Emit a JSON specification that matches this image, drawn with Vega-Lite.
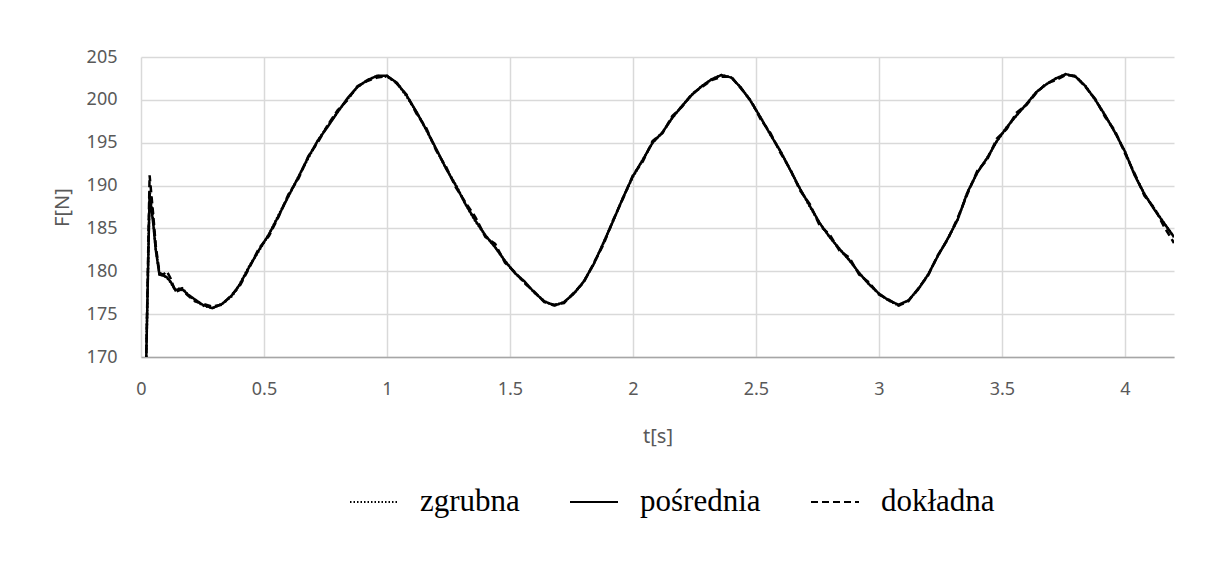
{
  "$schema": "https://vega.github.io/schema/vega-lite/v6.json",
  "width": 1033,
  "height": 300,
  "autosize": {"type": "none"},
  "padding": {"left": 141, "top": 57, "right": 32, "bottom": 217},
  "background": "white",
  "config": {
    "view": {"stroke": null},
    "axis": {
      "labelFont": "Noto Sans",
      "labelFontSize": 18,
      "labelColor": "#595959",
      "labelFlush": false,
      "titleFont": "Noto Sans",
      "titleFontSize": 20,
      "titleFontWeight": "normal",
      "titleColor": "#595959",
      "gridColor": "#d9d9d9",
      "gridWidth": 1.5,
      "ticks": false
    }
  },
  "data": {
    "values": [
      {"t": 0.02, "zgrubna": 168, "pośrednia": 168, "dokładna": 168},
      {"t": 0.035, "zgrubna": 189.4, "pośrednia": 189.0, "dokładna": 191.2},
      {"t": 0.05, "zgrubna": 185.8, "pośrednia": 185.5, "dokładna": 186.5},
      {"t": 0.06, "zgrubna": 182.6, "pośrednia": 182.5, "dokładna": 183.0},
      {"t": 0.075, "zgrubna": 179.7, "pośrednia": 179.6, "dokładna": 179.8},
      {"t": 0.09, "zgrubna": 179.5, "pośrednia": 179.5, "dokładna": 179.6},
      {"t": 0.105, "zgrubna": 179.3, "pośrednia": 179.3, "dokładna": 180.0},
      {"t": 0.12, "zgrubna": 178.7, "pośrednia": 178.8, "dokładna": 179.2},
      {"t": 0.14, "zgrubna": 177.8, "pośrednia": 177.8, "dokładna": 177.6},
      {"t": 0.165, "zgrubna": 178.1, "pośrednia": 178.0, "dokładna": 177.9},
      {"t": 0.19, "zgrubna": 177.3, "pośrednia": 177.3, "dokładna": 177.2},
      {"t": 0.22, "zgrubna": 176.6, "pośrednia": 176.7, "dokładna": 176.5},
      {"t": 0.25, "zgrubna": 176.0, "pośrednia": 176.1, "dokładna": 176.2},
      {"t": 0.29, "zgrubna": 175.7, "pośrednia": 175.7, "dokładna": 175.9},
      {"t": 0.33, "zgrubna": 176.2, "pośrednia": 176.2, "dokładna": 176.1},
      {"t": 0.37, "zgrubna": 177.1, "pośrednia": 177.2, "dokładna": 177.3},
      {"t": 0.40, "zgrubna": 178.4, "pośrednia": 178.4, "dokładna": 178.2},
      {"t": 0.44, "zgrubna": 180.6, "pośrednia": 180.5, "dokładna": 180.4},
      {"t": 0.48, "zgrubna": 182.4, "pośrednia": 182.5, "dokładna": 182.7},
      {"t": 0.52, "zgrubna": 184.3, "pośrednia": 184.3, "dokładna": 184.1},
      {"t": 0.56, "zgrubna": 186.6, "pośrednia": 186.5, "dokładna": 186.4},
      {"t": 0.60, "zgrubna": 188.8, "pośrednia": 188.8, "dokładna": 189.0},
      {"t": 0.64, "zgrubna": 191.0, "pośrednia": 191.0, "dokładna": 190.8},
      {"t": 0.68, "zgrubna": 193.2, "pośrednia": 193.3, "dokładna": 193.4},
      {"t": 0.72, "zgrubna": 195.3, "pośrednia": 195.3, "dokładna": 195.1},
      {"t": 0.76, "zgrubna": 197.0, "pośrednia": 196.9, "dokładna": 197.1},
      {"t": 0.80, "zgrubna": 198.6, "pośrednia": 198.6, "dokładna": 198.8},
      {"t": 0.84, "zgrubna": 200.1, "pośrednia": 200.2, "dokładna": 200.0},
      {"t": 0.88, "zgrubna": 201.5, "pośrednia": 201.5, "dokładna": 201.6},
      {"t": 0.92, "zgrubna": 202.3, "pośrednia": 202.3, "dokładna": 202.2},
      {"t": 0.96, "zgrubna": 202.8, "pośrednia": 202.8, "dokładna": 202.6},
      {"t": 1.00, "zgrubna": 202.7, "pośrednia": 202.8, "dokładna": 202.8},
      {"t": 1.04, "zgrubna": 202.0, "pośrednia": 202.0, "dokładna": 201.9},
      {"t": 1.08, "zgrubna": 200.4, "pośrednia": 200.5, "dokładna": 200.6},
      {"t": 1.12, "zgrubna": 198.6, "pośrednia": 198.6, "dokładna": 198.4},
      {"t": 1.16, "zgrubna": 196.5, "pośrednia": 196.5, "dokładna": 196.7},
      {"t": 1.20, "zgrubna": 194.2, "pośrednia": 194.3, "dokładna": 194.1},
      {"t": 1.24, "zgrubna": 192.0, "pośrednia": 192.0, "dokładna": 192.2},
      {"t": 1.28, "zgrubna": 190.1, "pośrednia": 190.0, "dokładna": 189.8},
      {"t": 1.32, "zgrubna": 187.8, "pośrednia": 187.8, "dokładna": 188.0},
      {"t": 1.36, "zgrubna": 185.8, "pośrednia": 185.9, "dokładna": 186.3},
      {"t": 1.40, "zgrubna": 184.2, "pośrednia": 184.2, "dokładna": 184.0},
      {"t": 1.44, "zgrubna": 182.8, "pośrednia": 182.8, "dokładna": 183.2},
      {"t": 1.48, "zgrubna": 181.2, "pośrednia": 181.2, "dokładna": 181.0},
      {"t": 1.52, "zgrubna": 179.8, "pośrednia": 179.8, "dokładna": 179.9},
      {"t": 1.56, "zgrubna": 178.7, "pośrednia": 178.8, "dokładna": 178.6},
      {"t": 1.60, "zgrubna": 177.5, "pośrednia": 177.5, "dokładna": 177.6},
      {"t": 1.64, "zgrubna": 176.5, "pośrednia": 176.5, "dokładna": 176.4},
      {"t": 1.68, "zgrubna": 176.0, "pośrednia": 176.0, "dokładna": 176.1},
      {"t": 1.72, "zgrubna": 176.4, "pośrednia": 176.4, "dokładna": 176.3},
      {"t": 1.76, "zgrubna": 177.4, "pośrednia": 177.4, "dokładna": 177.5},
      {"t": 1.80, "zgrubna": 178.8, "pośrednia": 178.8, "dokładna": 178.7},
      {"t": 1.84, "zgrubna": 180.8, "pośrednia": 180.8, "dokładna": 180.9},
      {"t": 1.88, "zgrubna": 183.3, "pośrednia": 183.3, "dokładna": 183.1},
      {"t": 1.92, "zgrubna": 185.9, "pośrednia": 185.9, "dokładna": 186.0},
      {"t": 1.96, "zgrubna": 188.6, "pośrednia": 188.6, "dokładna": 188.5},
      {"t": 2.00, "zgrubna": 191.0, "pośrednia": 191.1, "dokładna": 191.2},
      {"t": 2.04, "zgrubna": 193.0, "pośrednia": 193.0, "dokładna": 192.8},
      {"t": 2.08, "zgrubna": 195.0, "pośrednia": 195.0, "dokładna": 195.2},
      {"t": 2.12, "zgrubna": 196.2, "pośrednia": 196.2, "dokładna": 196.1},
      {"t": 2.16, "zgrubna": 197.9, "pośrednia": 197.9, "dokładna": 198.1},
      {"t": 2.20, "zgrubna": 199.3, "pośrednia": 199.3, "dokładna": 199.2},
      {"t": 2.24, "zgrubna": 200.6, "pośrednia": 200.6, "dokładna": 200.7},
      {"t": 2.28, "zgrubna": 201.6, "pośrednia": 201.6, "dokładna": 201.5},
      {"t": 2.32, "zgrubna": 202.4, "pośrednia": 202.4, "dokładna": 202.3},
      {"t": 2.36, "zgrubna": 202.9, "pośrednia": 202.9, "dokładna": 202.7},
      {"t": 2.40, "zgrubna": 202.6, "pośrednia": 202.6, "dokładna": 202.7},
      {"t": 2.44, "zgrubna": 201.4, "pośrednia": 201.4, "dokładna": 201.3},
      {"t": 2.48, "zgrubna": 199.8, "pośrednia": 199.8, "dokładna": 199.9},
      {"t": 2.52, "zgrubna": 197.9, "pośrednia": 197.9, "dokładna": 197.7},
      {"t": 2.56, "zgrubna": 195.9, "pośrednia": 195.9, "dokładna": 196.1},
      {"t": 2.60, "zgrubna": 194.0, "pośrednia": 194.0, "dokładna": 193.8},
      {"t": 2.64, "zgrubna": 191.8, "pośrednia": 191.8, "dokładna": 191.9},
      {"t": 2.68, "zgrubna": 189.6, "pośrednia": 189.6, "dokładna": 189.4},
      {"t": 2.72, "zgrubna": 187.5, "pośrednia": 187.6, "dokładna": 187.8},
      {"t": 2.76, "zgrubna": 185.6, "pośrednia": 185.6, "dokładna": 185.3},
      {"t": 2.80, "zgrubna": 184.0, "pośrednia": 184.0, "dokładna": 184.3},
      {"t": 2.84, "zgrubna": 182.6, "pośrednia": 182.6, "dokładna": 182.4},
      {"t": 2.88, "zgrubna": 181.3, "pośrednia": 181.3, "dokładna": 181.6},
      {"t": 2.92, "zgrubna": 179.8, "pośrednia": 179.8, "dokładna": 179.6},
      {"t": 2.96, "zgrubna": 178.5, "pośrednia": 178.5, "dokładna": 178.7},
      {"t": 3.00, "zgrubna": 177.4, "pośrednia": 177.4, "dokładna": 177.3},
      {"t": 3.04, "zgrubna": 176.6, "pośrednia": 176.6, "dokładna": 176.7},
      {"t": 3.08, "zgrubna": 176.0, "pośrednia": 176.1, "dokładna": 176.0},
      {"t": 3.12, "zgrubna": 176.6, "pośrednia": 176.6, "dokładna": 176.5},
      {"t": 3.16, "zgrubna": 177.9, "pośrednia": 177.9, "dokładna": 178.0},
      {"t": 3.20, "zgrubna": 179.6, "pośrednia": 179.6, "dokładna": 179.5},
      {"t": 3.24, "zgrubna": 181.8, "pośrednia": 181.8, "dokładna": 181.9},
      {"t": 3.28, "zgrubna": 183.8, "pośrednia": 183.8, "dokładna": 183.7},
      {"t": 3.32, "zgrubna": 186.0, "pośrednia": 186.0, "dokładna": 186.2},
      {"t": 3.36, "zgrubna": 189.2, "pośrednia": 189.2, "dokładna": 189.0},
      {"t": 3.40, "zgrubna": 191.5, "pośrednia": 191.5, "dokładna": 191.7},
      {"t": 3.44, "zgrubna": 193.2, "pośrednia": 193.2, "dokładna": 193.0},
      {"t": 3.48, "zgrubna": 195.2, "pośrednia": 195.2, "dokładna": 195.5},
      {"t": 3.52, "zgrubna": 196.8, "pośrednia": 196.8, "dokładna": 196.6},
      {"t": 3.56, "zgrubna": 198.2, "pośrednia": 198.2, "dokładna": 198.5},
      {"t": 3.60, "zgrubna": 199.5, "pośrednia": 199.5, "dokładna": 199.4},
      {"t": 3.64, "zgrubna": 200.9, "pośrednia": 200.9, "dokładna": 200.8},
      {"t": 3.68, "zgrubna": 201.8, "pośrednia": 201.8, "dokładna": 201.9},
      {"t": 3.72, "zgrubna": 202.5, "pośrednia": 202.5, "dokładna": 202.3},
      {"t": 3.76, "zgrubna": 203.0, "pośrednia": 203.0, "dokładna": 202.9},
      {"t": 3.80, "zgrubna": 202.7, "pośrednia": 202.7, "dokładna": 202.8},
      {"t": 3.84, "zgrubna": 201.6, "pośrednia": 201.6, "dokładna": 201.5},
      {"t": 3.88, "zgrubna": 200.0, "pośrednia": 200.0, "dokładna": 200.1},
      {"t": 3.92, "zgrubna": 198.2, "pośrednia": 198.2, "dokładna": 198.0},
      {"t": 3.96, "zgrubna": 196.2, "pośrednia": 196.2, "dokładna": 196.4},
      {"t": 4.00, "zgrubna": 194.0, "pośrednia": 194.0, "dokładna": 193.8},
      {"t": 4.04, "zgrubna": 191.3, "pośrednia": 191.2, "dokładna": 191.4},
      {"t": 4.08, "zgrubna": 189.0, "pośrednia": 189.0, "dokładna": 188.8},
      {"t": 4.12, "zgrubna": 187.3, "pośrednia": 187.2, "dokładna": 187.4},
      {"t": 4.16, "zgrubna": 185.6, "pośrednia": 185.6, "dokładna": 185.2},
      {"t": 4.20, "zgrubna": 184.0, "pośrednia": 184.0, "dokładna": 183.3}
    ]
  },
  "transform": [
    {"fold": ["zgrubna", "pośrednia", "dokładna"], "as": ["seria", "F"]}
  ],
  "mark": {"type": "line", "clip": true, "color": "black", "strokeWidth": 2.5},
  "encoding": {
    "x": {
      "field": "t",
      "type": "quantitative",
      "title": "t[s]",
      "scale": {"domain": [0, 4.2], "nice": false},
      "axis": {
        "values": [0, 0.5, 1, 1.5, 2, 2.5, 3, 3.5, 4],
        "format": "~g",
        "labelPadding": 23,
        "titlePadding": 28,
        "domainColor": "#a6a6a6",
        "domainWidth": 1.5
      }
    },
    "y": {
      "field": "F",
      "type": "quantitative",
      "title": "F[N]",
      "scale": {"domain": [170, 205], "nice": false, "zero": false},
      "axis": {
        "values": [170, 175, 180, 185, 190, 195, 200, 205],
        "labelPadding": 24,
        "titlePadding": 14,
        "domain": false
      }
    },
    "strokeDash": {
      "field": "seria",
      "type": "nominal",
      "scale": {
        "domain": ["zgrubna", "pośrednia", "dokładna"],
        "range": [[1.5, 2], [1, 0], [7, 4]]
      },
      "legend": {
        "title": null,
        "orient": "none",
        "direction": "horizontal",
        "legendX": 208,
        "legendY": 420,
        "symbolType": "stroke",
        "symbolStrokeColor": "black",
        "symbolStrokeWidth": 2,
        "symbolSize": 2304,
        "labelFont": "Liberation Serif",
        "labelFontSize": 31,
        "labelColor": "black",
        "labelOffset": 21,
        "columnPadding": 46,
        "labelLimit": 400
      }
    }
  }
}
